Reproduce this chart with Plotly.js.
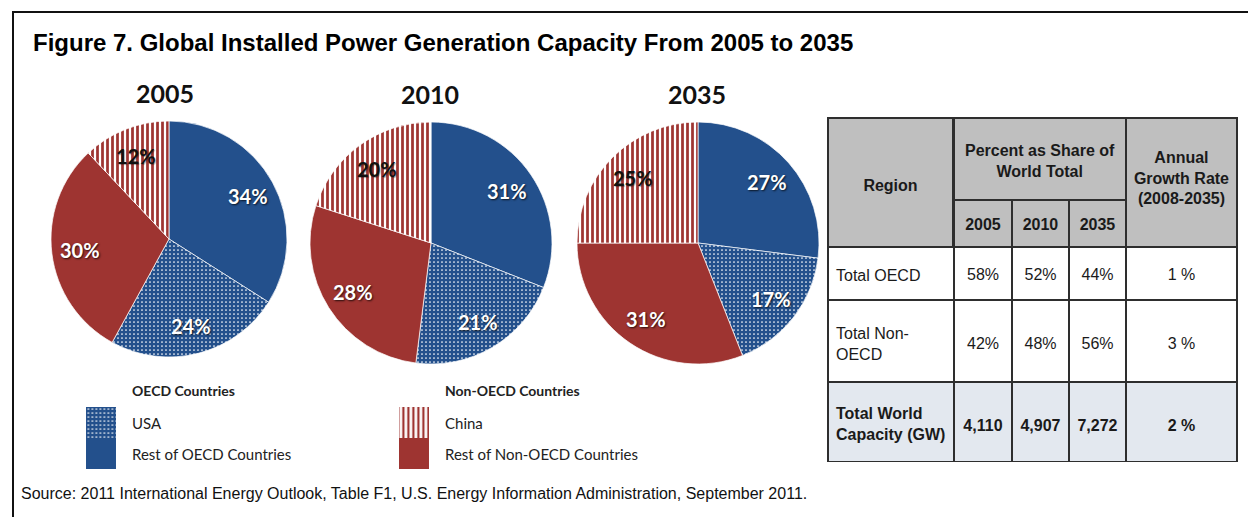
<!DOCTYPE html>
<html><head><meta charset="utf-8">
<script src="https://cdn.plot.ly/plotly-3.0.1.min.js"></script>
<style>html,body{margin:0;padding:0;background:#fff;overflow:hidden}</style>
</head><body><div id="chart" style="width:1248px;height:517px"></div>
<script>
// ---------- DATA ----------
const years = ['2005', '2010', '2035'];
const sliceLabels = ['Rest of OECD Countries', 'USA', 'Rest of Non-OECD Countries', 'China'];
const share2005 = [34, 24, 30, 12];
const share2010 = [31, 21, 28, 20];
const share2035 = [27, 17, 31, 25];

const legendGroups = ['OECD Countries', 'Non-OECD Countries'];
const legendTop = ['USA', 'China'];
const legendBottom = ['Rest of OECD Countries', 'Rest of Non-OECD Countries'];

const tableHeadRegion = 'Region';
const tableHeadShare = 'Percent as Share of<br>World Total';
const tableHeadGrowth = 'Annual<br>Growth Rate<br>(2008-2035)';
const tableRegions = ['Total OECD', 'Total Non-<br>OECD', 'Total World<br>Capacity (GW)'];
const tableCol2005 = ['58%', '42%', '4,110'];
const tableCol2010 = ['52%', '48%', '4,907'];
const tableCol2035 = ['44%', '56%', '7,272'];
const tableGrowth = ['1 %', '3 %', '2 %'];

const titleText = 'Figure 7. Global Installed Power Generation Capacity From 2005 to 2035';
const sourceText = 'Source: 2011 International Energy Outlook, Table F1, U.S. Energy Information Administration, September 2011.';

// ---------- STYLE / LAYOUT ----------
const W = 1248, H = 517;
const px = x => x / W;
const py = y => 1 - y / H;
const BLUE = '#23508c';
const RED = '#9e3431';
const GREY = '#bfbfbf';
const LASTROW = '#e3e8ef';
const BORDER = '#2e2e2e';
const TFONT = 'Liberation Sans, Arial, sans-serif';
const PFONT = 'Lato, Open Sans, sans-serif';

const shares = [share2005, share2010, share2035];
const pieBoxes = [
  {x0: 51, x1: 287, y0: 121, y1: 357},
  {x0: 310, x1: 552, y0: 122, y1: 364},
  {x0: 577, x1: 819, y0: 122, y1: 364}
];
const yearTitleDx = [-4, -1, -1];
const slicePattern = {
  shape: ['', '.', '', '|'],
  fillmode: 'overlay',
  bgcolor: [BLUE, BLUE, RED, '#ffffff'],
  fgcolor: [BLUE, '#ffffff', RED, RED],
  fgopacity: 1,
  size: [8, 4, 8, 5],
  solidity: [0.3, 0.15, 0.3, 0.55]
};
const labelColors = ['#ffffff', '#ffffff', '#ffffff', '#111111'];
const labelShadows = ['1px 1px 2px rgba(0,0,0,0.75)', '1px 1px 2px rgba(0,0,0,0.75)',
                      '1px 1px 2px rgba(0,0,0,0.75)', '1px 1px 1px rgba(0,0,0,0.35)'];

const traces = [];
const annotations = [];

shares.forEach((vals, i) => {
  const b = pieBoxes[i];
  traces.push({
    type: 'pie', name: years[i], labels: sliceLabels, values: vals, sort: false,
    direction: 'clockwise', rotation: 0, textinfo: 'none',
    hovertemplate: '%{label}: %{value}%<extra>' + years[i] + '</extra>',
    domain: {x: [px(b.x0), px(b.x1)], y: [py(b.y1), py(b.y0)]},
    marker: {colors: [BLUE, BLUE, RED, RED], line: {color: 'rgba(255,255,255,0.7)', width: 1}, pattern: slicePattern},
    showlegend: false
  });
  const total = vals.reduce((a, v) => a + v, 0);
  const cx = (b.x0 + b.x1) / 2, cy = (b.y0 + b.y1) / 2;
  const r = Math.min(b.x1 - b.x0, b.y1 - b.y0) / 2;
  // year heading above each pie
  annotations.push({
    xref: 'paper', yref: 'paper', x: px(cx + yearTitleDx[i]), y: py(b.y0 - 28), xanchor: 'center', yanchor: 'middle',
    text: years[i], showarrow: false, font: {family: PFONT, size: 25, color: '#111', weight: 700}
  });
  // slice value labels, placed along each slice's mid-angle
  let cum = 0;
  vals.forEach((v, k) => {
    const a = (cum + v / 2) / total * 2 * Math.PI;
    cum += v;
    const lx = cx + 0.76 * r * Math.sin(a);
    const ly = cy - 0.76 * r * Math.cos(a);
    annotations.push({
      xref: 'paper', yref: 'paper', x: px(lx), y: py(ly), xanchor: 'center', yanchor: 'middle',
      text: v + '%', showarrow: false,
      font: {family: PFONT, size: 20, color: labelColors[k], weight: 700, shadow: labelShadows[k]}
    });
  });
});

// ---------- legend swatches (hidden cartesian subplot) ----------
const swW = 0.0958;
traces.push({
  type: 'bar', x: [0, 1], y: [1, 1], base: [0, 0], width: swW, xaxis: 'x2', yaxis: 'y2',
  marker: {color: [BLUE, RED], line: {width: 0}}, text: legendBottom, textposition: 'none',
  hovertemplate: '%{text}<extra></extra>', showlegend: false
});
traces.push({
  type: 'bar', x: [0, 1], y: [1, 1], base: [1, 1], width: swW, xaxis: 'x2', yaxis: 'y2',
  marker: {color: [BLUE, RED], line: {width: 0},
    pattern: {shape: ['.', '|'], fillmode: 'overlay', bgcolor: [BLUE, '#ffffff'], fgcolor: ['#ffffff', RED],
      fgopacity: 1, size: [4, 5], solidity: [0.15, 0.55]}},
  text: legendTop, textposition: 'none', hovertemplate: '%{text}<extra></extra>', showlegend: false
});
legendGroups.forEach((g, i) => {
  annotations.push({xref: 'x2', yref: 'y2', x: i, y: 2, xanchor: 'left', yanchor: 'middle', xshift: 29, yshift: 17,
    text: g, showarrow: false, font: {family: PFONT, size: 14, color: '#222', weight: 700}});
  annotations.push({xref: 'x2', yref: 'y2', x: i, y: 1.5, xanchor: 'left', yanchor: 'middle', xshift: 29,
    text: legendTop[i], showarrow: false, font: {family: PFONT, size: 15, color: '#222'}});
  annotations.push({xref: 'x2', yref: 'y2', x: i, y: 0.5, xanchor: 'left', yanchor: 'middle', xshift: 29,
    text: legendBottom[i], showarrow: false, font: {family: PFONT, size: 15, color: '#222'}});
});

// ---------- table (several table traces to get merged header cells) ----------
const FS = 16;
const ctx = document.createElement('canvas').getContext('2d');
function textW(s, bold) {
  ctx.font = (bold ? 'bold ' : '') + FS + 'px "Liberation Sans"';
  return ctx.measureText(s).width;
}
// centre each line of a multi-line centred cell (table text lines are left-aligned inside the block)
function centerLines(text, bold) {
  const lines = text.split('<br>');
  if (lines.length < 2) return text;
  const ws = lines.map(l => textW(l, bold));
  const m = Math.max(...ws);
  const sp = textW('\u00a0', bold);
  return lines.map((l, k) => {
    const off = (m - ws[k]) / 2;
    if (off < 0.5) return l;
    const n = Math.floor(off / sp);
    const rem = off - n * sp;
    let pre = '\u00a0'.repeat(n);
    if (rem > 0.3) pre += '<span style="font-size:' + (rem / sp * FS).toFixed(1) + 'px">\u00a0</span>';
    return pre + l;
  }).join('<br>');
}
function vpad(text, c) {
  const n = text.split('<br>').length;
  let S = (c - 8 - 1.3 * FS - (n - 1) * 0.65 * FS + 0.358 * FS) / 0.905;
  S = Math.max(1, S);
  return '<span style="font-size:' + S.toFixed(1) + 'px">\u00a0</span><br>' + text;
}
function tableTrace(x0, x1, y0, y1, values, widths, align, fill, bold, centers) {
  return {
    type: 'table',
    domain: {x: [px(x0), px(x1)], y: [py(y1), py(y0)]},
    columnwidth: widths,
    header: {
      values: values.map((v, k) => {
        const t = align[k] === 'center' ? centerLines(v, bold) : v;
        return [vpad(bold ? '<b>' + t + '</b>' : t, centers[k])];
      }),
      height: y1 - y0, align: align,
      fill: {color: fill}, line: {color: BORDER, width: 1.6},
      font: {family: TFONT, size: FS, color: '#1a1a1a'}
    },
    cells: {values: []}
  };
}
const colX = [828, 954, 1012, 1069, 1126, 1237];
const rowY = [118, 200, 247, 300, 382, 462];
const colW = colX.slice(1).map((x, k) => x - colX[k]);

traces.push(tableTrace(colX[0], colX[1], rowY[0], rowY[2], [tableHeadRegion], [1], ['center'], GREY, true, [67]));
traces.push(tableTrace(colX[1], colX[4], rowY[0], rowY[1], [tableHeadShare], [1], ['center'], GREY, true, [42]));
traces.push(tableTrace(colX[1], colX[4], rowY[1], rowY[2], years, colW.slice(1, 4), ['center', 'center', 'center'], GREY, true, [23, 23, 23]));
traces.push(tableTrace(colX[4], colX[5], rowY[0], rowY[2], [tableHeadGrowth], [1], ['center'], GREY, true, [60]));

const rowFill = ['#ffffff', '#ffffff', LASTROW];
const rowBold = [false, false, true];
const rowCenters = [[28, 27, 27, 27, 27], [43, 43, 43, 43, 43], [41, 43, 43, 43, 43]];
tableRegions.forEach((reg, i) => {
  traces.push(tableTrace(colX[0], colX[5], rowY[i + 2], rowY[i + 3],
    [reg, tableCol2005[i], tableCol2010[i], tableCol2035[i], tableGrowth[i]],
    colW, ['left', 'center', 'center', 'center', 'center'], rowFill[i], rowBold[i], rowCenters[i]));
});

annotations.push({xref: 'paper', yref: 'paper', x: px(19), y: py(493), xanchor: 'left', yanchor: 'middle',
  text: sourceText, showarrow: false, font: {family: TFONT, size: 16, color: '#111'}});

const layout = {
  width: W, height: H, margin: {l: 0, r: 0, t: 0, b: 0, autoexpand: false},
  paper_bgcolor: '#ffffff', plot_bgcolor: '#ffffff', showlegend: false, barmode: 'overlay',
  title: {text: titleText, x: px(33), xanchor: 'left', xref: 'paper', y: py(43), yref: 'paper', yanchor: 'middle',
    font: {family: TFONT, size: 24, color: '#000', weight: 700}},
  xaxis: {visible: false}, yaxis: {visible: false},
  xaxis2: {domain: [px(38.4), px(476.6)], range: [-0.2, 1.2], visible: false, fixedrange: true, anchor: 'y2'},
  yaxis2: {domain: [py(469), py(407)], range: [0, 2], visible: false, fixedrange: true, anchor: 'x2'},
  shapes: [{type: 'rect', xref: 'paper', yref: 'paper', x0: px(13), x1: 1.05, y0: -0.05, y1: py(12),
    line: {color: '#111', width: 2}, fillcolor: 'rgba(0,0,0,0)', layer: 'below'}],
  annotations: annotations
};
Plotly.newPlot('chart', traces, layout, {displayModeBar: false});
</script></body></html>
